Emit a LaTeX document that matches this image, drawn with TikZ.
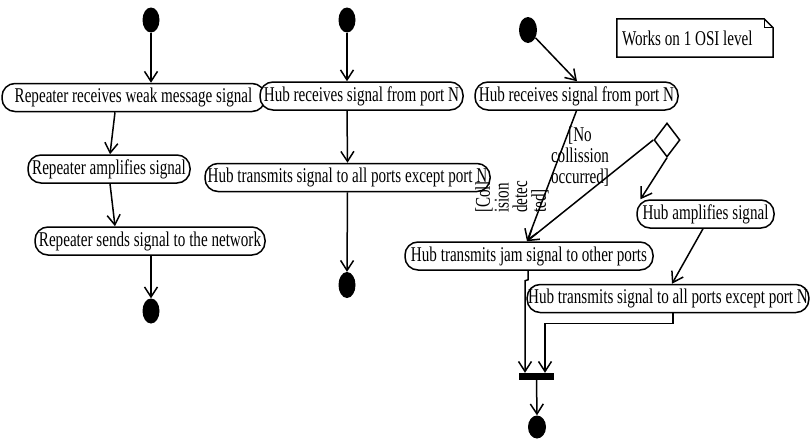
\documentclass[tikz,border=0pt]{standalone}
\usepackage{fontspec}
\setmainfont{Liberation Serif}[FakeStretch=0.72]
\usetikzlibrary{arrows.meta,shapes.geometric}
\begin{document}
\begin{tikzpicture}[x=1pt,y=-1pt,
  act/.style={draw, line width=1.5pt, rounded corners=13pt, fill=white, minimum height=28pt, inner xsep=1pt, inner ysep=0.5pt, font=\fontsize{21}{22}\selectfont},
  startnode/.style={ellipse, fill=black, inner sep=0pt, minimum width=17pt, minimum height=25pt},
  endnode/.style={ellipse, fill=black, inner sep=0pt, minimum width=17pt, minimum height=25pt},
  arr/.style={line width=1.5pt, -{Straight Barb[length=10pt,width=13pt]}},
  lbl/.style={inner sep=0pt, font=\fontsize{21}{21}\selectfont}
]
\useasboundingbox (0,0) rectangle (812,439);

% column 1
\node[startnode] (i1) at (151,20) {};
\node[act, minimum width=263pt] (r1) at (133.5,97.5) {Repeater receives weak message signal};
\node[act, minimum width=162pt] (r2) at (109,169) {Repeater amplifies signal};
\node[act, minimum width=230pt] (r3) at (150,241) {Repeater sends signal to the network};
\node[endnode] (f1) at (151,311) {};
\draw[arr] (i1.south) -- (i1 |- r1.north);
\draw[arr] ([xshift=-18.5pt]r1.south) -- ([xshift=1pt]r2.north);
\draw[arr] ([xshift=1pt]r2.south) -- ([xshift=-35pt]r3.north);
\draw[arr] ([xshift=1pt]r3.south) -- (f1.north);

% column 2
\node[startnode] (i2) at (347,20) {};
\node[act, minimum width=203pt] (h1) at (361.5,96) {Hub receives signal from port N};
\node[act, minimum width=285pt] (h2) at (347.5,177.5) {Hub transmits signal to all ports except port N};
\node[endnode, minimum height=26pt] (f2) at (347,285) {};
\draw[arr] (i2.south) -- (i2 |- h1.north);
\draw[arr] ([xshift=-14.5pt]h1.south) -- (h2.north);
\draw[arr] (h2.south) -- (f2.north);

% note
\node[inner sep=0pt, minimum width=156pt, minimum height=38pt] (note) at (695,38) {};
\draw[line width=1.5pt] (note.north west) -- ([xshift=-9pt]note.north east) -- ([yshift=-9pt]note.north east) -- (note.south east) -- (note.south west) -- cycle;
\draw[line width=1pt] ([xshift=-9pt]note.north east) -- ([xshift=-9pt,yshift=-9pt]note.north east) -- ([yshift=-9pt]note.north east);
\node[anchor=west, inner sep=0pt, font=\fontsize{21}{22}\selectfont] (notetext) at ([xshift=5pt]note.west) {Works on 1 OSI level};

% column 3
\node[startnode, minimum width=18pt, minimum height=26pt] (i3) at (528,30) {};
\node[act, minimum width=203pt] (c1) at (576.5,96) {Hub receives signal from port N};
\node[diamond, draw, line width=1.5pt, fill=white, inner sep=0pt, minimum width=26pt, minimum height=34pt] (d) at (667,140) {};
\node[act, minimum width=248pt] (jam) at (529,256) {Hub transmits jam signal to other ports};
\node[act, minimum width=137pt] (amp) at (705.5,214) {Hub amplifies signal};
\node[act, minimum width=280pt] (c2) at (668,298.5) {Hub transmits signal to all ports except port N};
\node[fill=black, inner sep=0pt, minimum width=35pt, minimum height=7pt] (bar) at (536.5,376.5) {};
\node[endnode, minimum width=18pt, minimum height=23pt] (f3) at (537,427) {};

\draw[arr] (i3) -- ([xshift=0.5pt]c1.north);
\draw[arr] (c1.south) -- ([xshift=-2pt]jam.north);
\draw[arr] (d.west) -- ([xshift=-2pt]jam.north);
\draw[arr] (d.south) -- ([xshift=-65pt]amp.north);
\draw[arr] ([xshift=-2.5pt]amp.south) -- ([xshift=4pt]c2.north);
\draw[arr] ([xshift=-1pt]jam.south) -- ++(0,9) -- ++(-3,1) -- ([xshift=-11.5pt]bar.north);
\draw[arr] ([xshift=5pt]c2.south) -- ++(0,10) -| ([xshift=8.5pt]bar.north);
\draw[arr] (bar.south) -- (f3.north);

% guard labels
\node[lbl, align=center] (nocol) at (580,157) {[No\\collission\\occurred]};
\node[lbl, align=left, rotate=90, anchor=west, font=\fontsize{21}{18.7}\selectfont] (col) at (512,213) {[Coll\\ision\\detec\\ted]};
\end{tikzpicture}
\end{document}
